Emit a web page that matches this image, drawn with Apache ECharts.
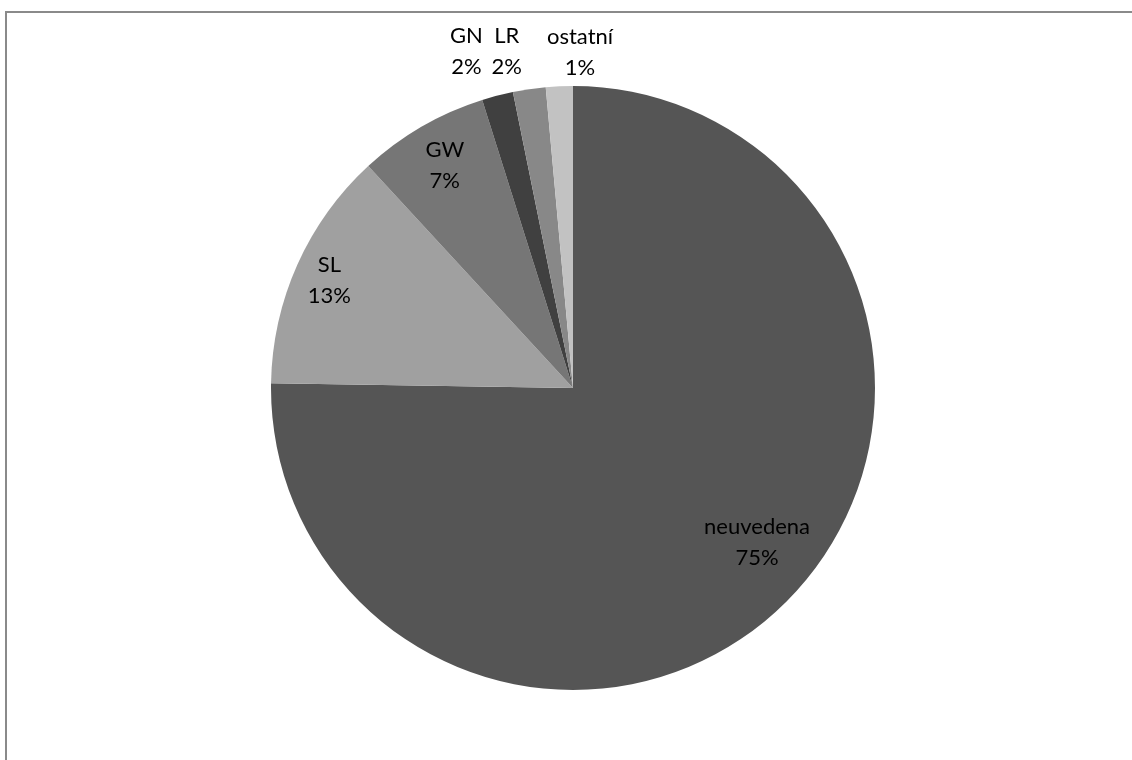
<!DOCTYPE html>
<html>
<head>
<meta charset="utf-8">
<script src="https://cdn.jsdelivr.net/npm/echarts@6/dist/echarts.min.js"></script>
<style>
  html, body { margin: 0; padding: 0; background: #fff; overflow: hidden; }
  #frame {
    position: absolute; left: 5px; top: 11px;
    width: 1200px; height: 800px;
    border: 2px solid #8a8a8a;
  }
  #pie { position: absolute; left: 0; top: 0; width: 1132px; height: 760px; }
</style>
</head>
<body>
<div id="frame"></div>
<div id="pie"></div>
<script>
// podíly jednotlivých kategorií (%)
const names = ['neuvedena', 'SL', 'GW', 'GN', 'LR', 'ostatní'];
const values = [75.26, 12.9, 7.0, 1.67, 1.75, 1.44];
const colors = ['#555555', '#a0a0a0', '#767676', '#404040', '#888888', '#c2c2c2'];
// posun popisků od výchozí pozice uvnitř výseče
const labelOffsets = [[76, 45], [-103, -45], [-51, -89], [-68, -187], [-44, -184], [14, -182]];

let pie = echarts.init(document.getElementById('pie'));
pie.setOption({
  animation: false,
  series: [
    {
      type: 'pie',
      center: [573, 388],
      radius: 302,
      startAngle: 90,
      clockwise: true,
      percentPrecision: 0,
      label: {
        show: true,
        position: 'inside',
        formatter: '{b}\n{d}%',
        color: '#000',
        fontFamily: 'Lato',
        fontSize: 22,
        lineHeight: 31,
        align: 'center'
      },
      labelLine: { show: false },
      emphasis: { disabled: true },
      data: names.map((n, i) => ({
        name: n,
        value: values[i],
        itemStyle: { color: colors[i] },
        label: { offset: labelOffsets[i] }
      }))
    }
  ]
});
</script>
</body>
</html>
